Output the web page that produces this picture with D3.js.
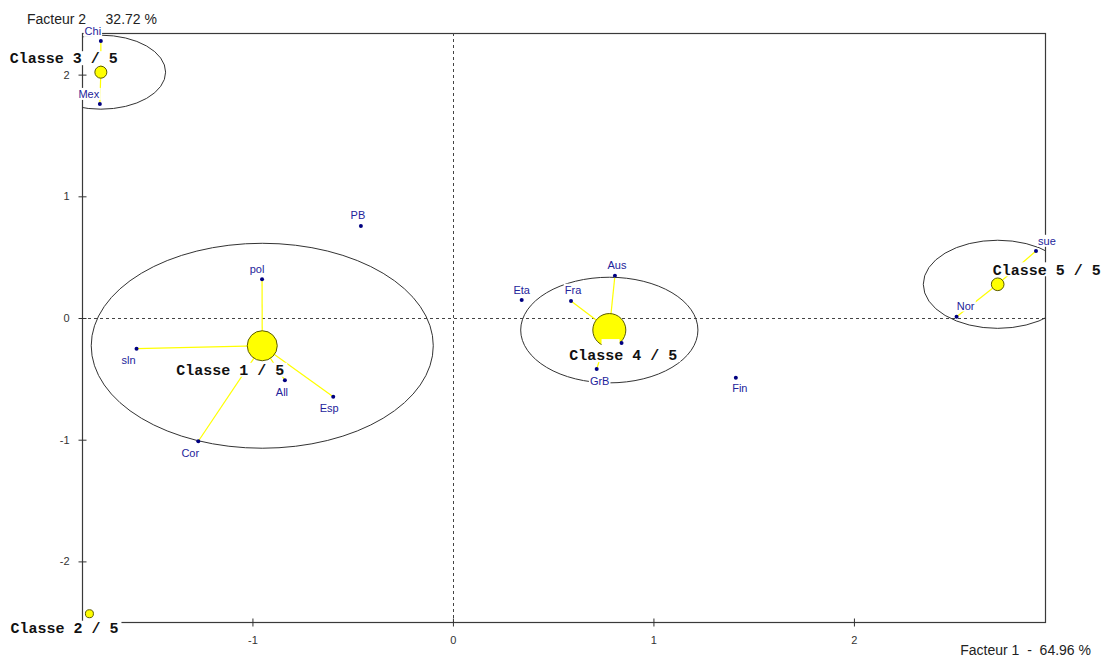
<!DOCTYPE html>
<html>
<head>
<meta charset="utf-8">
<script src="https://cdn.jsdelivr.net/npm/d3@7"></script>
<style>
  html, body { margin: 0; padding: 0; background: #fff; }
  svg { display: block; }
  text { white-space: pre; }
</style>
</head>
<body>
<svg id="chart" width="1110" height="662"></svg>
<script>
// ---------- DATA ----------
const pointNames   = ["Chi", "Mex", "PB", "pol", "sln", "All", "Esp", "Cor", "Aus", "Fra", "Eta", "GrB", "Fin", "Ita", "sue", "Nor"];
const pointF1      = [-1.756, -1.761, -0.459, -0.952, -1.578, -0.838, -0.597, -1.270, 0.808, 0.589, 0.343, 0.717, 1.411, 0.841, 2.908, 2.512];
const pointF2      = [2.276, 1.758, 0.756, 0.318, -0.252, -0.512, -0.647, -1.013, 0.348, 0.140, 0.148, -0.419, -0.490, -0.206, 0.551, 0.011];
const pointClass   = [3, 3, null, 1, 1, 1, 1, 1, 4, 4, null, 4, null, 4, 5, 5];

const classIds     = [1, 2, 3, 4, 5];
const classLabels  = ["Classe 1 / 5", "Classe 2 / 5", "Classe 3 / 5", "Classe 4 / 5", "Classe 5 / 5"];
const classF1      = [-0.951, -1.813, -1.756, 0.780, 2.717];
const classF2      = [-0.228, -2.430, 2.020, -0.099, 0.277];
const classWeight  = [0.225, 0.016, 0.036, 0.272, 0.040];
const classSpreadX = [0.853, 0, 0.323, 0.442, 0.371];
const classSpreadY = [0.842, 0, 0.304, 0.434, 0.362];

const xTicks = [-1, 0, 1, 2];
const yTicks = [-2, -1, 0, 1, 2];
const xTitle = "Facteur 1  -  64.96 %";
const yTitle = "Facteur 2     32.72 %";

// ---------- LAYOUT (label placement) ----------
const pointLabelOffset = {
  Chi: [-8, -10], Mex: [-11, -10], PB: [-3, -11], pol: [-5, -10], sln: [-8, 11],
  All: [-3, 12], Esp: [-4, 11], Cor: [-8, 12], Aus: [2, -11], Fra: [2, -11],
  Eta: [0, -10], GrB: [3, 12], Fin: [4, 11], Ita: [-11, 2], sue: [11, -10], Nor: [9, -11]
};
const hiddenLabel = { Ita: true };
const classLabelOffset = [[-86, 24], [-79, 14], [-91, -14], [-40, 25], [-5, -15]];

// ---------- SETUP ----------
const svg = d3.select("#chart");
const L = 82, R = 1045, T = 33, B = 622;
const x = d3.scaleLinear().domain([-1.85, 2.953]).range([L, R]);
const y = d3.scaleLinear().domain([-2.498, 2.342]).range([B, T]);
const rScale = d3.scaleSqrt().domain([0, 0.272]).range([0, 16.5]);
const fmt = d => String(d); // plain hyphen minus, as in the reference

const points = pointNames.map((n, i) => ({ name: n, f1: pointF1[i], f2: pointF2[i], cls: pointClass[i] }));
const classes = classIds.map((c, i) => ({
  id: c, label: classLabels[i], f1: classF1[i], f2: classF2[i], w: classWeight[i],
  sx: classSpreadX[i], sy: classSpreadY[i], off: classLabelOffset[i]
}));
const classById = new Map(classes.map(c => [c.id, c]));

svg.append("defs").append("clipPath").attr("id", "plotClip")
  .append("rect").attr("x", L).attr("y", T).attr("width", R - L).attr("height", B - T);

// frame
svg.append("rect").attr("x", L + 0.5).attr("y", T + 0.5).attr("width", R - L).attr("height", B - T)
  .attr("fill", "none").attr("stroke", "#3a3a3a").attr("stroke-width", 1.2);

// zero dashed lines
svg.append("line").attr("x1", Math.round(x(0)) + 0.5).attr("x2", Math.round(x(0)) + 0.5)
  .attr("y1", T).attr("y2", B).attr("stroke", "#444").attr("stroke-dasharray", "3,3");
svg.append("line").attr("y1", Math.round(y(0)) + 0.5).attr("y2", Math.round(y(0)) + 0.5)
  .attr("x1", L).attr("x2", R).attr("stroke", "#444").attr("stroke-dasharray", "3,3");

// axes
const gx = svg.append("g").attr("transform", `translate(0,${B + 0.5})`)
  .call(d3.axisBottom(x).tickValues(xTicks).tickFormat(fmt).tickSize(4).tickPadding(10));
gx.select(".domain").remove();
gx.selectAll(".tick line").attr("y1", -4).attr("y2", 4).attr("stroke", "#333");
gx.selectAll(".tick text").attr("font-family", "Liberation Sans, Arial, sans-serif").attr("font-size", 11).attr("fill", "#333");

const gy = svg.append("g").attr("transform", `translate(${L + 0.5},0)`)
  .call(d3.axisLeft(y).tickValues(yTicks).tickFormat(fmt).tickSize(4).tickPadding(9));
gy.select(".domain").remove();
gy.selectAll(".tick line").attr("x1", -4).attr("x2", 4).attr("stroke", "#333");
gy.selectAll(".tick text").attr("font-family", "Liberation Sans, Arial, sans-serif").attr("font-size", 11).attr("fill", "#333");

// ellipses (clipped)
svg.append("g").attr("clip-path", "url(#plotClip)")
  .selectAll("ellipse").data(classes.filter(c => c.sx > 0)).join("ellipse")
  .attr("cx", d => x(d.f1)).attr("cy", d => y(d.f2))
  .attr("rx", d => x(d.f1 + d.sx) - x(d.f1)).attr("ry", d => y(d.f2) - y(d.f2 + d.sy))
  .attr("fill", "none").attr("stroke", "#333").attr("stroke-width", 1);

// links
svg.append("g").selectAll("line").data(points.filter(p => p.cls != null)).join("line")
  .attr("x1", d => x(d.f1)).attr("y1", d => y(d.f2))
  .attr("x2", d => x(classById.get(d.cls).f1)).attr("y2", d => y(classById.get(d.cls).f2))
  .attr("stroke", "#ffff00").attr("stroke-width", 1.2);

// centroids
svg.append("g").selectAll("circle").data(classes).join("circle")
  .attr("cx", d => x(d.f1)).attr("cy", d => y(d.f2)).attr("r", d => rScale(d.w))
  .attr("fill", "#ffff00").attr("stroke", "#5a5a00").attr("stroke-width", 1);

// points
svg.append("g").selectAll("circle").data(points).join("circle")
  .attr("cx", d => x(d.f1)).attr("cy", d => y(d.f2)).attr("r", 2)
  .attr("fill", "#000080");

// point labels with white background
const pl = svg.append("g").selectAll("g").data(points).join("g")
  .attr("transform", d => `translate(${x(d.f1) + pointLabelOffset[d.name][0]},${y(d.f2) + pointLabelOffset[d.name][1]})`);
pl.append("text").text(d => hiddenLabel[d.name] ? "" : d.name)
  .attr("text-anchor", "middle").attr("dy", "0.35em")
  .attr("font-family", "Liberation Sans, Arial, sans-serif").attr("font-size", 11)
  .attr("fill", "#23239b");
pl.each(function (d) {
  const g = d3.select(this);
  let bb = g.select("text").node().getBBox();
  if (hiddenLabel[d.name]) bb = { x: -8, y: -6, width: 16, height: 12 };
  g.insert("rect", "text").attr("x", bb.x - 1).attr("y", bb.y).attr("width", bb.width + 2).attr("height", bb.height)
    .attr("fill", "#fff");
});

// class labels with white background
const cl = svg.append("g").selectAll("g").data(classes).join("g")
  .attr("transform", d => `translate(${x(d.f1) + d.off[0]},${y(d.f2) + d.off[1]})`);
cl.append("text").text(d => d.label)
  .attr("dy", "0.35em")
  .attr("font-family", "Liberation Mono, Courier New, monospace").attr("font-weight", "bold").attr("font-size", 15)
  .attr("fill", "#111");
cl.each(function () {
  const g = d3.select(this);
  const bb = g.select("text").node().getBBox();
  g.insert("rect", "text").attr("x", bb.x - 3).attr("y", -7).attr("width", bb.width + 6).attr("height", 14)
    .attr("fill", "#fff");
});

// axis titles
svg.append("text").attr("x", 27).attr("y", 19).attr("dy", "0.35em").text(yTitle)
  .attr("font-family", "Liberation Sans, Arial, sans-serif").attr("font-size", 14).attr("fill", "#222");
svg.append("text").attr("x", 1091).attr("y", 650).attr("dy", "0.35em").attr("text-anchor", "end").text(xTitle)
  .attr("font-family", "Liberation Sans, Arial, sans-serif").attr("font-size", 14).attr("fill", "#222");
</script>
</body>
</html>
